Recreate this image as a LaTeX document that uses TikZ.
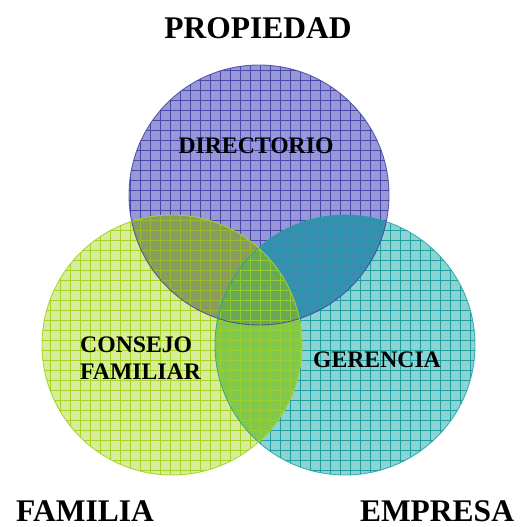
\documentclass[tikz,border=0pt]{standalone}
\usepackage{fontspec}
\setmainfont{Liberation Serif}
\begin{document}
\begin{tikzpicture}[x=1pt,y=-1pt,
  outer/.style={font=\fontsize{31.5}{34}\selectfont\bfseries, inner sep=0pt},
  inner/.style={font=\fontsize{23.7}{27}\selectfont\bfseries, inner sep=0pt},
  gridlines/.style={line width=0.55pt}]
\definecolor{pfill}{HTML}{9898D8}
\definecolor{pgrid}{HTML}{4848A8}
\definecolor{pline}{HTML}{4040A0}
\definecolor{gfill}{HTML}{D8EC9C}
\definecolor{ggrid}{HTML}{A4D424}
\definecolor{tfill}{HTML}{8CD4D4}
\definecolor{tgrid}{HTML}{20A0A0}
\definecolor{ptfill}{HTML}{3C8CB4}
\definecolor{ptgrid}{HTML}{2496A6}
\definecolor{pgfill}{HTML}{8A9A60}
\definecolor{pggrid}{HTML}{94BC2C}
\definecolor{gtfill}{HTML}{80C850}
\definecolor{gtgrid}{HTML}{98D030}
\definecolor{allfill}{HTML}{6AA858}
\definecolor{allgrid}{HTML}{90CC30}
\useasboundingbox (0,0) rectangle (519,527);
\coordinate (cp) at (259,195);
\coordinate (cg) at (172,345);
\coordinate (ct) at (345,345);
\def\R{130}
\newcommand{\mygrid}[1]{%
  \foreach \k in {0,10,...,520} {
    \draw[#1, gridlines] (\k,0) -- (\k,527);
    \draw[#1, gridlines] (0,\k) -- (519,\k);
  }}
% single circles
\begin{scope}
  \clip (cp) circle[radius=\R];
  \fill[pfill] (0,0) rectangle (519,527);
  \mygrid{pgrid}
\end{scope}
\begin{scope}
  \clip (ct) circle[radius=\R];
  \fill[tfill] (0,0) rectangle (519,527);
  \mygrid{tgrid}
\end{scope}
\begin{scope}
  \clip (cg) circle[radius=\R];
  \fill[gfill] (0,0) rectangle (519,527);
  \mygrid{ggrid}
\end{scope}
% pair overlaps
\begin{scope}
  \clip (cp) circle[radius=\R];
  \clip (ct) circle[radius=\R];
  \fill[ptfill] (0,0) rectangle (519,527);
  \mygrid{ptgrid}
\end{scope}
\begin{scope}
  \clip (cp) circle[radius=\R];
  \clip (cg) circle[radius=\R];
  \fill[pgfill] (0,0) rectangle (519,527);
  \mygrid{pggrid}
\end{scope}
\begin{scope}
  \clip (cg) circle[radius=\R];
  \clip (ct) circle[radius=\R];
  \fill[gtfill] (0,0) rectangle (519,527);
  \mygrid{gtgrid}
\end{scope}
% triple overlap
\begin{scope}
  \clip (cp) circle[radius=\R];
  \clip (cg) circle[radius=\R];
  \clip (ct) circle[radius=\R];
  \fill[allfill] (0,0) rectangle (519,527);
  \mygrid{allgrid}
\end{scope}
% outlines
\draw[pline, line width=0.9pt, opacity=0.8] (cp) circle[radius=\R];
\draw[tgrid, line width=0.9pt, opacity=0.8] (ct) circle[radius=\R];
\draw[ggrid, line width=0.9pt, opacity=0.9] (cg) circle[radius=\R];
% labels
\node[outer] (prop) at (258,28) {PROPIEDAD};
\node[outer] (fam) at (85,511) {FAMILIA};
\node[outer] (emp) at (437,511) {EMPRESA};
\node[inner] (dir) at (256,146) {DIRECTORIO};
\node[inner, align=left, anchor=north west] (cons) at (80,337) {CONSEJO\\FAMILIAR};
\node[inner] (ger) at (377,360) {GERENCIA};
\end{tikzpicture}
\end{document}
